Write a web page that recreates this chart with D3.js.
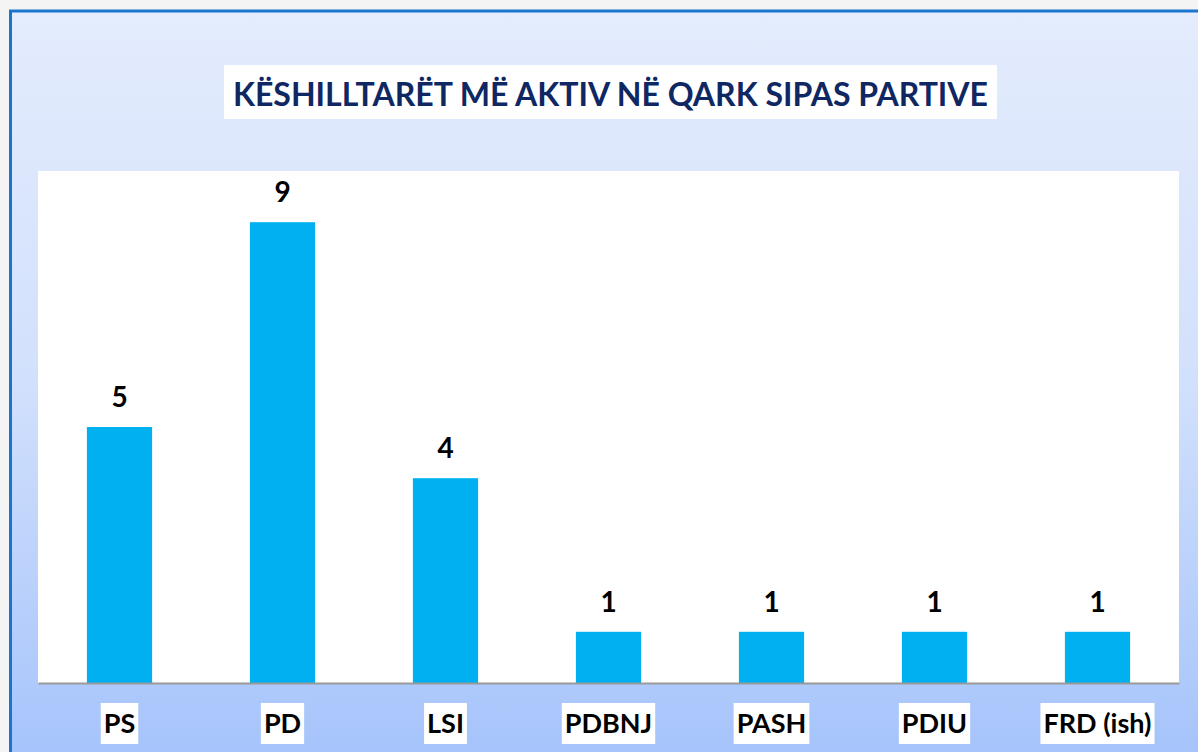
<!DOCTYPE html>
<meta charset="utf-8">
<style>
body { margin: 0; background: #fff; }
text { font-family: Lato, "Open Sans", sans-serif; font-weight: bold; }
</style>
<body>
<script src="https://cdn.jsdelivr.net/npm/d3@7"></script>
<script>

var parties = ["PS", "PD", "LSI", "PDBNJ", "PASH", "PDIU", "FRD (ish)"];
var counts = [5, 9, 4, 1, 1, 1, 1];
var chartTitle = "KËSHILLTARËT MË AKTIV NË QARK SIPAS PARTIVE";

var W = 1198, H = 752;
var plot = {left: 38, right: 1179, top: 171, bottom: 683};

var svg = d3.select("body").append("svg")
  .attr("width", W)
  .attr("height", H);

// background gradient
var defs = svg.append("defs");
var grad = defs.append("linearGradient")
  .attr("id", "bg")
  .attr("x1", 0).attr("y1", 0).attr("x2", 0).attr("y2", 1);
grad.append("stop").attr("offset", "0%").attr("stop-color", "#e4ecfd");
grad.append("stop").attr("offset", "50%").attr("stop-color", "#d1e0fc");
grad.append("stop").attr("offset", "100%").attr("stop-color", "#a5c3fb");

svg.append("rect")
  .attr("x", 0).attr("y", 0).attr("width", W).attr("height", H)
  .attr("fill", "#f4f4f4");

svg.append("rect")
  .attr("x", 10).attr("y", 11).attr("width", W).attr("height", H)
  .attr("fill", "url(#bg)");

// border lines top and left
svg.append("line")
  .attr("x1", 9).attr("x2", W).attr("y1", 11).attr("y2", 11)
  .attr("stroke", "#1a75cf").attr("stroke-width", 3);
svg.append("line")
  .attr("x1", 10.5).attr("x2", 10.5).attr("y1", 10).attr("y2", H)
  .attr("stroke", "#1a75cf").attr("stroke-width", 3);

// title
svg.append("rect")
  .attr("x", 224).attr("y", 65).attr("width", 773).attr("height", 54)
  .attr("fill", "#fff");
svg.append("text")
  .attr("x", 233).attr("y", 106)
  .attr("textLength", 755)
  .attr("lengthAdjust", "spacingAndGlyphs")
  .attr("fill", "#0f2763")
  .style("font-size", "33px")
  .text(chartTitle);

// plot area
svg.append("rect")
  .attr("x", plot.left).attr("y", plot.top)
  .attr("width", plot.right - plot.left).attr("height", plot.bottom - plot.top)
  .attr("fill", "#fff");

var x = d3.scaleBand()
  .domain(parties)
  .range([plot.left, plot.right])
  .paddingInner(0.6)
  .paddingOuter(0.3);

var y = d3.scaleLinear()
  .domain([0, 10])
  .range([plot.bottom, plot.top]);

svg.selectAll(".bar")
  .data(counts)
  .enter().append("rect")
  .attr("class", "bar")
  .attr("x", function(d, i) { return x(parties[i]); })
  .attr("y", function(d) { return y(d); })
  .attr("width", x.bandwidth())
  .attr("height", function(d) { return y(0) - y(d); })
  .attr("fill", "#00b0f0");

svg.selectAll(".val")
  .data(counts)
  .enter().append("text")
  .attr("class", "val")
  .attr("x", function(d, i) { return x(parties[i]) + x.bandwidth() / 2; })
  .attr("y", function(d) { return y(d) - 20; })
  .attr("text-anchor", "middle")
  .style("font-size", "28px")
  .attr("fill", "#000")
  .text(function(d) { return d; });

// x axis
var axis = svg.append("g")
  .attr("transform", "translate(0," + plot.bottom + ")")
  .call(d3.axisBottom(x).tickSize(0).tickPadding(0));
axis.select(".domain")
  .attr("stroke", "#999")
  .attr("stroke-width", 2);
axis.selectAll(".tick text")
  .attr("y", 50)
  .attr("dy", null)
  .attr("fill", "#000")
  .style("font-size", "27px")
  .style("font-family", "Lato, sans-serif")
  .style("font-weight", "bold");

// white boxes behind category labels
axis.selectAll(".tick").each(function() {
  var t = d3.select(this).select("text");
  var bb = t.node().getBBox();
  d3.select(this).insert("rect", "text")
    .attr("x", bb.x - 3)
    .attr("y", 20)
    .attr("width", bb.width + 6)
    .attr("height", 41)
    .attr("fill", "#fff");
});

</script>
</body>
